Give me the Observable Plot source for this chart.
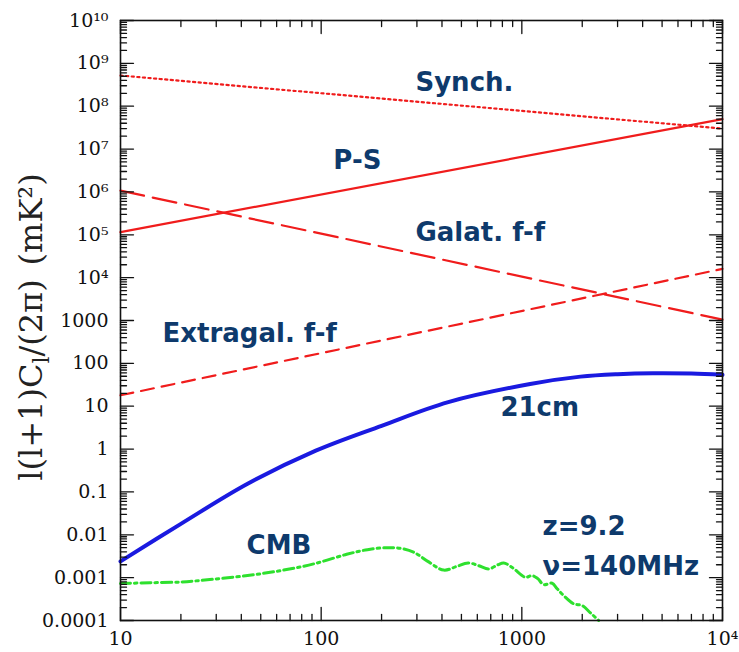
<!DOCTYPE html>
<html>
<head>
<meta charset="utf-8">
<script src="https://cdn.jsdelivr.net/npm/d3@7"></script>
<script src="https://cdn.jsdelivr.net/npm/@observablehq/plot@0.6"></script>
<style>
  body { margin: 0; background: #fff; }
  #chart svg { display: block; }
</style>
</head>
<body>
<div id="chart"></div>
<script>
// Angular power spectra l(l+1)C_l/(2π) in mK², z = 9.2 (ν = 140 MHz)

// Power-law foregrounds: values at l = 10 and l = 10^4
const ellEnds = [10, 1e4];
const synch = [5.2e8, 3.0e7];
const pointSources = [1.15e5, 5.0e7];
const galacticFF = [1.07e6, 1.05e3];
const extragalFF = [18, 1.6e4];

// 21cm signal
const ell21 = [10, 20, 43, 94, 200, 430, 1100, 1960, 3000, 4500, 7000, 10000];
const cl21 = [0.0024, 0.018, 0.155, 0.92, 3.5, 12.5, 33, 49, 56, 59, 58, 54];

// CMB
const ellCMB = [10, 14, 20, 25, 43, 65, 92, 134, 170, 213, 250, 290, 340, 408, 470, 540, 610, 684, 760, 812, 900, 1042, 1125, 1200, 1284, 1415, 1500, 1618, 1811, 1995, 2200, 2415];
const clCMB = [7.3e-4, 7.6e-4, 7.9e-4, 8.6e-4, 1.12e-3, 1.5e-3, 2.1e-3, 3.5e-3, 4.5e-3, 5.0e-3, 4.8e-3, 3.9e-3, 2.4e-3, 1.5e-3, 1.8e-3, 2.2e-3, 1.9e-3, 1.6e-3, 2.0e-3, 2.2e-3, 1.7e-3, 1.02e-3, 1.12e-3, 0.95e-3, 6.9e-4, 7.4e-4, 5.5e-4, 3.8e-4, 2.45e-4, 2.24e-4, 1.5e-4, 1.0e-4];

// Tick values and labels
const xTicks = [10, 100, 1000, 1e4];
const xTickLabels = ["10", "100", "1000", "10⁴"];
const yTicks = [1e-4, 1e-3, 1e-2, 1e-1, 1, 10, 100, 1000, 1e4, 1e5, 1e6, 1e7, 1e8, 1e9, 1e10];
const yTickLabels = ["0.0001", "0.001", "0.01", "0.1", "1", "10", "100", "1000", "10⁴", "10⁵", "10⁶", "10⁷", "10⁸", "10⁹", "10¹⁰"];

// Curve names and where they are written (l, value)
const annotationText = ["Synch.", "P-S", "Galat. f-f", "Extragal. f-f", "21cm", "CMB", "z=9.2", "ν=140MHz"];
const annotationL = [295, 115, 295, 16.2, 782, 42.5, 1268, 1268];
const annotationV = [3.6e8, 5.4e6, 1.13e5, 497, 9.3, 5.6e-3, 0.0156, 1.82e-3];

const red = "#f01c1c";
const blue = "#1a1ae0";
const green = "#2ee02e";
const navy = "#0e3a6c";

const pairs = (xs, ys) => xs.map((x, i) => ({l: x, v: ys[i]}));
const annotations = annotationText.map((t, i) => ({text: t, l: annotationL[i], v: annotationV[i]}));

// minor ticks at 2..9 × 10^k
const minors = (lo, hi) => {
  const out = [];
  for (let e = lo; e < hi; e++) for (let k = 2; k <= 9; k++) out.push(k * Math.pow(10, e));
  return out;
};
const xMinor = minors(1, 4);
const yMinor = minors(-4, 10);

// straight tick segment drawn by the vector mark
const tickShape = {draw(ctx, l) { ctx.moveTo(0, 0); ctx.lineTo(0, -l); }};
const ticksAlong = (values, channel, frameAnchor, rotate, length) =>
  Plot.vector(values, {[channel]: d => d, frameAnchor, rotate, length, anchor: "start", shape: tickShape, stroke: "#111", strokeWidth: 1.3});

const xLabel = new Map(xTicks.map((t, i) => [t, xTickLabels[i]]));
const yLabel = new Map(yTicks.map((t, i) => [t, yTickLabels[i]]));

const chart = Plot.plot({
  width: 739,
  height: 652,
  marginLeft: 120,
  marginRight: 17,
  marginTop: 20,
  marginBottom: 32,
  style: {fontFamily: "'DejaVu Serif', serif", fontSize: "19px", color: "#111", background: "#fff"},
  x: {type: "log", domain: [10, 1e4], ticks: xTicks, tickFormat: d => xLabel.get(d), tickSize: 0, tickPadding: 11, label: null},
  y: {type: "log", domain: [1e-4, 1e10], ticks: yTicks, tickFormat: d => yLabel.get(d), tickSize: 0, tickPadding: 12, label: null},
  marks: [
    Plot.line(pairs(ellEnds, synch), {x: "l", y: "v", stroke: red, strokeWidth: 2.2, strokeDasharray: "2.2 3.4"}),
    Plot.line(pairs(ellEnds, pointSources), {x: "l", y: "v", stroke: red, strokeWidth: 2.2}),
    Plot.line(pairs(ellEnds, galacticFF), {x: "l", y: "v", stroke: red, strokeWidth: 2.2, strokeDasharray: "24 9"}),
    Plot.line(pairs(ellEnds, extragalFF), {x: "l", y: "v", stroke: red, strokeWidth: 2.2, strokeDasharray: "13 8"}),
    Plot.line(pairs(ell21, cl21), {x: "l", y: "v", stroke: blue, strokeWidth: 4, curve: "catmull-rom"}),
    Plot.line(pairs(ellCMB, clCMB), {x: "l", y: "v", stroke: green, strokeWidth: 3, curve: "catmull-rom", strokeDasharray: "10 4 2.5 4"}),
    Plot.text(annotations, {x: "l", y: "v", text: "text", textAnchor: "start", lineAnchor: "middle", fontSize: 26, fontWeight: "bold", fontFamily: "'DejaVu Sans', Verdana, sans-serif", fill: navy}),
    ticksAlong(yTicks, "y", "left", 90, 13),
    ticksAlong(yMinor, "y", "left", 90, 6),
    ticksAlong(yTicks, "y", "right", -90, 13),
    ticksAlong(yMinor, "y", "right", -90, 6),
    ticksAlong(xTicks, "x", "bottom", 0, 13),
    ticksAlong(xMinor, "x", "bottom", 0, 6),
    ticksAlong(xTicks, "x", "top", 180, 13),
    ticksAlong(xMinor, "x", "top", 180, 6),
    Plot.frame({stroke: "#111", strokeWidth: 1.6})
  ]
});

// y-axis title with a subscript and a superscript
const title = d3.select(chart).append("text")
  .attr("transform", "translate(42,327) rotate(-90)")
  .attr("text-anchor", "middle")
  .attr("font-family", "'DejaVu Serif', serif")
  .attr("font-size", 32)
  .attr("fill", "#222");
title.append("tspan").text("l(l+1)C");
title.append("tspan").attr("font-size", 22).attr("dy", 7).text("l");
title.append("tspan").attr("dy", -7).text("/(2π)");
title.append("tspan").attr("dx", 14).text("(mK²)");

document.getElementById("chart").append(chart);
</script>
</body>
</html>
